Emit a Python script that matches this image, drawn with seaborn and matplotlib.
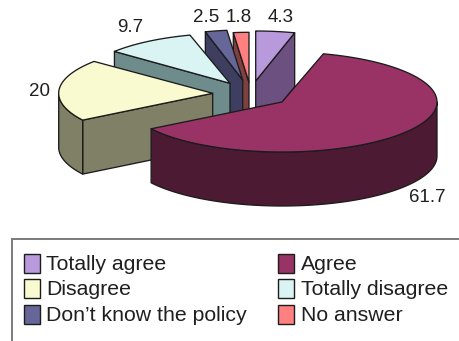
import numpy as np
import matplotlib
matplotlib.use("Agg")
import matplotlib.pyplot as plt
from matplotlib.patches import Rectangle
import seaborn as sns

# Survey responses, in clockwise order from twelve o'clock
categories = ["Totally agree", "Agree", "Disagree", "Totally disagree",
              "Don\u2019t know the policy", "No answer"]
shares = [4.3, 61.7, 20, 9.7, 2.5, 1.8]

face_colors = ["#B899DB", "#993366", "#FAFAD0", "#DAF3F3", "#666699", "#FF8080"]
wall_colors = ["#6B5080", "#4D1A33", "#808066", "#6F8C8C", "#3E3F60", "#804040"]

# Exploded apex of each slice on the canvas, and its horizontal radius
apex_x = [255.7, 282.0, 212.7, 230.0, 242.7, 249.0]
apex_y = [81.0, 102.0, 93.3, 83.3, 80.0, 82.3]
radius_x = [146, 155, 154, 150, 140, 139]
radius_y = 50
depth = 54

label_xy = [(281, 18), (427, 198), (39, 92), (130, 27), (206, 18), (239, 18)]
draw_order = [5, 4, 3, 0, 2, 1]

sns.set_theme(style="white")
plt.rcParams["font.family"] = ["Liberation Sans", "DejaVu Sans"]
INK = "#1c1c1c"

fig = plt.figure(figsize=(4.59, 3.41), dpi=100, facecolor="white")
ax = fig.add_axes([0, 0, 1, 1])
ax.set_xlim(0, 459)
ax.set_ylim(341, 0)
ax.axis("off")

edges = np.radians(np.concatenate([[0], np.cumsum(shares)]) / np.sum(shares) * 360)


def rim(i, theta):
    """Point on the top rim of slice i for clockwise angle theta."""
    theta = np.asarray(theta)
    return apex_x[i] + radius_x[i] * np.sin(theta), apex_y[i] - radius_y * np.cos(theta)


def face(xs, ys, color):
    ax.fill(xs, ys, facecolor=color, edgecolor=INK, lw=0.95, joinstyle="round")


for i in draw_order:
    t0, t1 = edges[i], edges[i + 1]
    px, py = apex_x[i], apex_y[i]

    # Cut faces that turn toward the viewer
    if np.sin(t0) < 0:
        ox, oy = rim(i, t0)
        face([px, ox, ox, px], [py, oy, oy + depth, py + depth], wall_colors[i])
    if np.sin(t1) > 0:
        ox, oy = rim(i, t1)
        face([px, ox, ox, px], [py, oy, oy + depth, py + depth], wall_colors[i])

    # Outer wall on the near half of the rim
    lo, hi = max(t0, np.pi / 2), min(t1, 3 * np.pi / 2)
    if hi > lo:
        th = np.linspace(lo, hi, 80)
        wx, wy = rim(i, th)
        face(np.r_[wx, wx[::-1]], np.r_[wy, wy[::-1] + depth], wall_colors[i])

    # Top face
    th = np.linspace(t0, t1, 120)
    tx, ty = rim(i, th)
    face(np.r_[px, tx], np.r_[py, ty], face_colors[i])

for value, (lx, ly) in zip(shares, label_xy):
    ax.text(lx, ly, f"{value:g}", ha="center", va="center", fontsize=13.5, color="#1f1f1f")

# Legend frame runs off the canvas on the right and at the bottom
ax.add_patch(Rectangle((12, 239), 470, 130, facecolor="white", edgecolor="#7a7a7a", lw=1.4))

col_swatch = [23.5, 277.5]
col_text = [46.5, 301]
row_top = [253.5, 279, 305]
for i, name in enumerate(categories):
    c, r = i % 2, i // 2
    ax.add_patch(Rectangle((col_swatch[c], row_top[r]), 16, 19,
                           facecolor=face_colors[i], edgecolor=INK, lw=1.0))
    ax.text(col_text[c], row_top[r] + 10.5, name, ha="left", va="center",
            fontsize=15.3, color="#1f1f1f")

fig.savefig("out.png", dpi=100)
